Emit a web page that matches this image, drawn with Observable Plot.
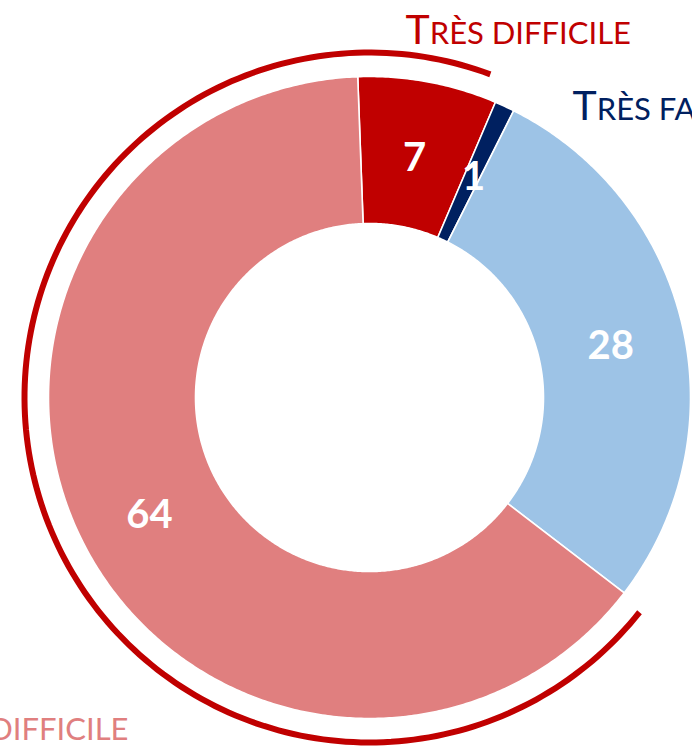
<!DOCTYPE html>
<html><head><meta charset="utf-8">
<script src="https://cdn.jsdelivr.net/npm/d3@7"></script>
<script src="https://cdn.jsdelivr.net/npm/@observablehq/plot@0.6"></script>
<style>html,body{margin:0;padding:0;background:#fff;overflow:hidden}</style>
</head><body><div id="chart"></div>
<script>
// ---- data ----
const categories = ["Très difficile", "Très facile", "Assez facile", "Assez difficile"];
const values = [7, 1, 28, 64];
const colors = ["#C00000", "#002060", "#9DC3E6", "#E07F7F"];
const bracketed = ["Assez difficile", "Très difficile"]; // grouped by the outer red arc
const shownLabels = ["Très difficile", "Très facile", "Assez difficile"];

// ---- layout ----
const W = 692, H = 749, cx = 369, cy = 397;
const rIn = 174, rOut = 321, rBracket = 345;
const startDeg = -2.1;
const labelPlacement = {
  "Très difficile": {x: 36, y: -354, anchor: "start"},
  "Très facile": {x: 203, y: -278, anchor: "start"},
  "Assez difficile": {x: -241, y: 342, anchor: "end"}
};
const rad = d => d * Math.PI / 180;
const pt = (a, r) => [r * Math.sin(a), -r * Math.cos(a)];

const table = categories.map((c, i) => ({cat: c, value: values[i], color: colors[i]}));
const arcs = d3.pie().sort(null).value(d => d.value)
  .startAngle(rad(startDeg)).endAngle(rad(startDeg) + 2 * Math.PI)(table);

// slice polygons
const poly = [];
arcs.forEach(a => {
  const n = Math.max(4, Math.ceil((a.endAngle - a.startAngle) / rad(0.5)));
  const pts = [];
  for (let k = 0; k <= n; k++) pts.push(pt(a.startAngle + (a.endAngle - a.startAngle) * k / n, rOut));
  for (let k = n; k >= 0; k--) pts.push(pt(a.startAngle + (a.endAngle - a.startAngle) * k / n, rIn));
  pts.push(pts[0]);
  pts.forEach(([x, y]) => poly.push({cat: a.data.cat, x, y}));
});

// bracket arc spanning the "difficile" slices
const b0 = arcs.find(a => a.data.cat === "Assez difficile").startAngle + rad(1.0);
const b1 = arcs.find(a => a.data.cat === "Très difficile").endAngle + rad(-2.6);
const bEnd = b1 < b0 ? b1 + 2 * Math.PI : b1;
const bracket = d3.range(0, 201).map(k => {
  const [x, y] = pt(b0 + (bEnd - b0) * k / 200, rBracket);
  return {x, y};
});

// value labels
const valueLabels = arcs.map(a => {
  const m = (a.startAngle + a.endAngle) / 2;
  const [x, y] = pt(m, (rIn + rOut) / 2);
  return {x, y, value: a.data.value};
});

const catLabels = shownLabels.map(c => ({
  cat: c, text: c.toUpperCase(),
  x: labelPlacement[c].x, y: labelPlacement[c].y, anchor: labelPlacement[c].anchor
}));

const chart = Plot.plot({
  width: W, height: H, margin: 0,
  style: {fontFamily: "Lato, sans-serif", background: "white"},
  x: {domain: [-cx, W - cx], range: [0, W], axis: null},
  y: {domain: [-cy, H - cy], range: [0, H], axis: null},
  color: {domain: categories, range: colors},
  marks: [
    Plot.line(poly, {x: "x", y: "y", z: "cat", fill: "cat", stroke: "white", strokeWidth: 1.6, strokeLinejoin: "round"}),
    Plot.line(bracket, {x: "x", y: "y", stroke: "#C00000", strokeWidth: 6, fill: "none", strokeLinecap: "butt"}),
    Plot.text(valueLabels, {x: "x", y: "y", dy: 4, text: d => String(d.value), fill: "white", fontSize: 40, fontWeight: "bold"}),
    Plot.text(catLabels.filter(d => d.anchor === "start"), {x: "x", y: "y", text: "text", fill: d => d.cat, textAnchor: "start", lineAnchor: "bottom", fontSize: 31}),
    Plot.text(catLabels.filter(d => d.anchor === "end"), {x: "x", y: "y", text: "text", fill: d => d.cat, textAnchor: "end", lineAnchor: "bottom", fontSize: 31})
  ]
});
document.getElementById("chart").appendChild(chart);

// small-caps styling: enlarge the initial capital of each category label
const labelTexts = new Set(catLabels.map(d => d.text));
chart.querySelectorAll("text").forEach(t => {
  const s = t.textContent;
  if (!labelTexts.has(s)) return;
  t.textContent = "";
  const ns = "http://www.w3.org/2000/svg";
  const a = document.createElementNS(ns, "tspan");
  a.setAttribute("font-size", "41");
  a.textContent = s[0];
  const b = document.createElementNS(ns, "tspan");
  b.textContent = s.slice(1);
  t.appendChild(a); t.appendChild(b);
});
</script>
</body></html>
